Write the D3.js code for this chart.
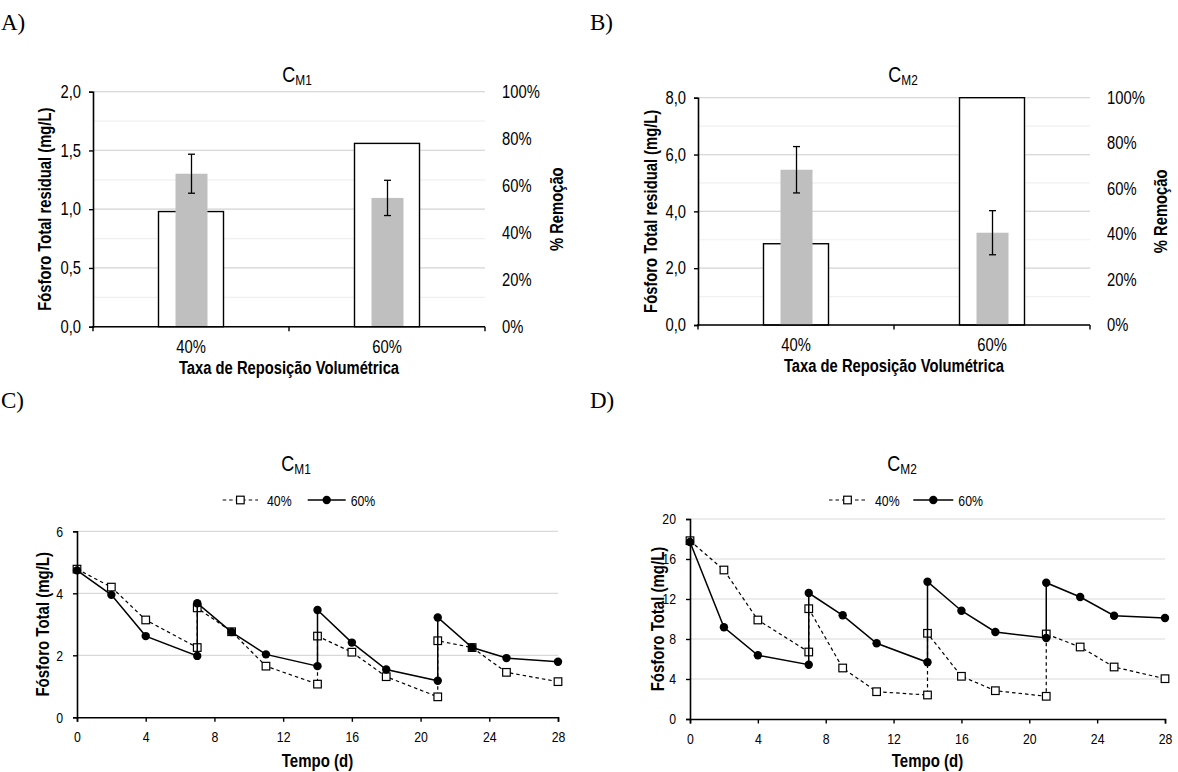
<!DOCTYPE html>
<html>
<head>
<meta charset="utf-8">
<script src="https://cdn.jsdelivr.net/npm/d3@7"></script>
<style>
  body { margin: 0; background: #fff; }
  svg { display: block; }
</style>
</head>
<body>
<svg id="chart" width="1178" height="772"></svg>
<script>
// ---------------- DATA ----------------
const barCategories = ["40%", "60%"];
// Bar panels: white boxes = residual total phosphorus (mg/L, left axis)
const residualCM1 = [0.98, 1.56];
const residualCM2 = [2.86, 8.0];
// Grey bars = % removal (right axis) with error bars
const removalCM1 = [65.1, 54.8];
const removalErrCM1 = [8.3, 7.5];
const removalCM2 = [68.3, 40.6];
const removalErrCM2 = [10.2, 9.7];

const leftTicksCM1 = [0, 0.5, 1.0, 1.5, 2.0];
const leftTicksCM2 = [0, 2, 4, 6, 8];
const rightTicks = [0, 20, 40, 60, 80, 100];

// Time series panels
const seriesNames = ["40%", "60%"];
const days = [0, 2, 4, 7, 7, 9, 11, 14, 14, 16, 18, 21, 21, 23, 25, 28];
const cm1_40 = [4.78, 4.20, 3.14, 2.25, 3.53, 2.76, 1.65, 1.07, 2.62, 2.10, 1.31, 0.66, 2.47, 2.25, 1.45, 1.15];
const cm1_60 = [4.74, 3.95, 2.62, 1.98, 3.68, 2.75, 2.03, 1.65, 3.46, 2.41, 1.54, 1.18, 3.22, 2.25, 1.91, 1.79];
const cm2_40 = [17.83, 14.9, 9.9, 6.7, 11.03, 5.1, 2.73, 2.4, 8.57, 4.27, 2.83, 2.27, 8.5, 7.2, 5.2, 4.03];
const cm2_60 = [17.7, 9.17, 6.37, 5.43, 12.6, 10.37, 7.57, 5.67, 13.73, 10.83, 8.7, 8.1, 13.63, 12.2, 10.33, 10.1];
const dayTicks = [0, 4, 8, 12, 16, 20, 24, 28];
const yTicksCM1 = [0, 2, 4, 6];
const yTicksCM2 = [0, 4, 8, 12, 16, 20];

// ---------------- DRAWING ----------------
const svg = d3.select("#chart");
const NARROW = "'Liberation Sans Narrow','Arial Narrow','Liberation Sans',Arial,sans-serif";
const SERIF = "'Liberation Serif','Times New Roman',serif";
const SQUEEZE = 0.82;   // emulate a condensed (Arial Narrow-like) face
const TICK_AB = 18, TICK_CD = 15;
const BOLD_AB = 18, BOLD_CD = 18.3;
const fmtComma = d => d3.format(".1f")(d).replace(".", ",");

function panelLetter(txt, x, y) {
  svg.append("text").attr("class", "nosq").attr("x", x).attr("y", y)
    .attr("font-family", SERIF).attr("font-size", 23).attr("fill", "#000").text(txt);
}
function title(main, sub, cx, y) {
  const g = svg.append("g").attr("transform", `translate(${cx},${y}) scale(${SQUEEZE},1)`);
  const t = g.append("text").attr("class", "nosq").attr("x", 0).attr("y", 0)
    .attr("text-anchor", "middle").attr("font-family", NARROW).attr("fill", "#000");
  t.append("tspan").attr("font-size", 22).text(main);
  t.append("tspan").attr("font-size", 14.5).attr("dy", 3).text(sub);
}
function vTitle(txt, cx, cy, size) {
  svg.append("text")
    .attr("transform", `translate(${cx + size * 0.36},${cy}) rotate(-90)`)
    .attr("text-anchor", "middle").attr("font-family", NARROW)
    .attr("font-weight", "bold").attr("font-size", size).attr("fill", "#000")
    .text(txt);
}

function barPanel(o) {
  const g = svg.append("g");
  const x = d3.scaleBand().domain(barCategories).range([o.x0, o.x1]).padding(0);
  const yL = d3.scaleLinear().domain([0, o.leftMax]).range([o.y0, o.y1]);
  const yR = d3.scaleLinear().domain([0, 100]).range([o.y0, o.y1]);
  const minor = d3.range(0, o.leftMax + 1e-9, o.leftMinor);
  g.selectAll(".mn").data(minor).join("line")
    .attr("x1", o.x0).attr("x2", o.x1)
    .attr("y1", d => yL(d)).attr("y2", d => yL(d))
    .attr("stroke", "#f0f0f0").attr("stroke-width", 1.2);
  g.selectAll(".mj").data(o.leftTicks).join("line")
    .attr("x1", o.x0).attr("x2", o.x1)
    .attr("y1", d => yL(d)).attr("y2", d => yL(d))
    .attr("stroke", "#d9d9d9").attr("stroke-width", 1.2);
  g.selectAll(".box").data(barCategories).join("rect")
    .attr("x", (d) => x(d) + x.bandwidth() / 2 - 32.5).attr("width", 65)
    .attr("y", (d, i) => yL(o.residual[i])).attr("height", (d, i) => o.y0 - yL(o.residual[i]))
    .attr("fill", "#fff").attr("stroke", "#000").attr("stroke-width", 1.4);
  g.selectAll(".gb").data(barCategories).join("rect")
    .attr("x", (d) => x(d) + x.bandwidth() / 2 - 15.5).attr("width", 32)
    .attr("y", (d, i) => yR(o.removal[i])).attr("height", (d, i) => o.y0 - yR(o.removal[i]))
    .attr("fill", "#bfbfbf");
  barCategories.forEach((c, i) => {
    const cx = x(c) + x.bandwidth() / 2 + 0.5;
    const t = yR(o.removal[i] + o.err[i]), b = yR(o.removal[i] - o.err[i]);
    g.append("line").attr("x1", cx).attr("x2", cx).attr("y1", t).attr("y2", b)
      .attr("stroke", "#000").attr("stroke-width", 1.3);
    [t, b].forEach(yy => g.append("line").attr("x1", cx - 3.5).attr("x2", cx + 3.5)
      .attr("y1", yy).attr("y2", yy).attr("stroke", "#000").attr("stroke-width", 1.3));
  });
  const axL = g.append("g").attr("transform", `translate(${o.x0},0)`)
    .call(d3.axisLeft(yL).tickValues(o.leftTicks).tickFormat(fmtComma).tickSize(4).tickPadding(8));
  axL.select(".domain").attr("stroke-width", 1.6);
  axL.selectAll(".tick line").attr("stroke-width", 1.4);
  axL.selectAll("text").attr("font-family", NARROW).attr("font-size", TICK_AB).attr("fill", "#000");
  const axR = g.append("g").attr("transform", `translate(${o.x1},0)`)
    .call(d3.axisRight(yR).tickValues(rightTicks).tickFormat(d => d + "%").tickSize(0).tickPadding(17));
  axR.select(".domain").remove();
  axR.selectAll("text").attr("font-family", NARROW).attr("font-size", TICK_AB).attr("fill", "#000");
  g.append("line").attr("x1", o.x0 - 1).attr("x2", o.x1).attr("y1", o.y0).attr("y2", o.y0)
    .attr("stroke", "#000").attr("stroke-width", 1.6);
  const bounds = [o.x0, (o.x0 + o.x1) / 2, o.x1];
  g.selectAll(".bt").data(bounds).join("line")
    .attr("x1", d => d).attr("x2", d => d).attr("y1", o.y0).attr("y2", o.y0 + 4.5)
    .attr("stroke", "#000").attr("stroke-width", 1.4);
  g.selectAll(".cl").data(barCategories).join("text")
    .attr("x", d => x(d) + x.bandwidth() / 2).attr("y", o.y0 + 26)
    .attr("text-anchor", "middle").attr("font-family", NARROW).attr("font-size", TICK_AB)
    .text(d => d);
  g.append("text").attr("x", (o.x0 + o.x1) / 2).attr("y", o.y0 + 47)
    .attr("text-anchor", "middle").attr("font-family", NARROW).attr("font-weight", "bold")
    .attr("font-size", BOLD_AB).text("Taxa de Reposição Volumétrica");
  vTitle("Fósforo Total residual (mg/L)", o.ltx, (o.y0 + o.y1) / 2, BOLD_AB);
  vTitle("% Remoção", o.rtx, (o.y0 + o.y1) / 2, BOLD_AB);
}

function linePanel(o) {
  const g = svg.append("g");
  const x = d3.scaleLinear().domain([0, 28]).range([o.x0, o.x1]);
  const y = d3.scaleLinear().domain([0, o.yMax]).range([o.y0, o.y1]);
  g.selectAll(".gl").data(o.yTicks.filter(d => d > 0)).join("line")
    .attr("x1", o.x0).attr("x2", o.x1).attr("y1", d => y(d)).attr("y2", d => y(d))
    .attr("stroke", "#d9d9d9").attr("stroke-width", 1.2);
  const line = d3.line().x(d => x(d[0])).y(d => y(d[1]));
  const p40 = days.map((d, i) => [d, o.s40[i]]);
  const p60 = days.map((d, i) => [d, o.s60[i]]);
  g.append("path").attr("d", line(p40)).attr("fill", "none").attr("stroke", "#000")
    .attr("stroke-width", 1.2).attr("stroke-dasharray", "3.5,3");
  g.selectAll(".sq").data(p40).join("rect")
    .attr("x", d => x(d[0]) - 3.8).attr("y", d => y(d[1]) - 3.8)
    .attr("width", 7.6).attr("height", 7.6)
    .attr("fill", "#fff").attr("stroke", "#000").attr("stroke-width", 1.2);
  g.append("path").attr("d", line(p60)).attr("fill", "none").attr("stroke", "#000")
    .attr("stroke-width", 1.5);
  g.selectAll(".ci").data(p60).join("circle")
    .attr("cx", d => x(d[0])).attr("cy", d => y(d[1])).attr("r", 4.2).attr("fill", "#000");
  const axL = g.append("g").attr("transform", `translate(${o.x0},0)`)
    .call(d3.axisLeft(y).tickValues(o.yTicks).tickFormat(d3.format("d")).tickSize(4).tickPadding(10));
  axL.select(".domain").attr("stroke-width", 1.6);
  axL.selectAll(".tick line").attr("stroke-width", 1.4);
  axL.selectAll("text").attr("font-family", NARROW).attr("font-size", TICK_CD).attr("fill", "#000");
  const axB = g.append("g").attr("transform", `translate(0,${o.y0})`)
    .call(d3.axisBottom(x).tickValues(dayTicks).tickFormat(d3.format("d")).tickSize(4.5).tickPadding(10));
  axB.select(".domain").attr("stroke-width", 1.6);
  axB.selectAll(".tick line").attr("stroke-width", 1.4);
  axB.selectAll("text").attr("font-family", NARROW).attr("font-size", TICK_CD).attr("fill", "#000");
  g.append("text").attr("x", (o.x0 + o.x1) / 2).attr("y", 766.5)
    .attr("text-anchor", "middle").attr("font-family", NARROW).attr("font-weight", "bold")
    .attr("font-size", BOLD_CD).text("Tempo (d)");
  vTitle("Fósforo Total  (mg/L)", o.ltx, (o.y0 + o.y1) / 2, BOLD_CD);
  const ly = o.legY;
  g.append("line").attr("x1", o.leg[0]).attr("x2", o.leg[1]).attr("y1", ly).attr("y2", ly)
    .attr("stroke", "#000").attr("stroke-width", 1.2).attr("stroke-dasharray", "3.5,3");
  const sqx = (o.leg[0] + o.leg[1]) / 2;
  g.append("rect").attr("x", sqx - 3.8).attr("y", ly - 3.8).attr("width", 7.6).attr("height", 7.6)
    .attr("fill", "#fff").attr("stroke", "#000").attr("stroke-width", 1.2);
  g.append("text").attr("x", o.leg[1] + 9).attr("y", ly + 5.5).attr("font-family", NARROW)
    .attr("font-size", TICK_CD).text(seriesNames[0]);
  g.append("line").attr("x1", o.leg[2]).attr("x2", o.leg[3]).attr("y1", ly).attr("y2", ly)
    .attr("stroke", "#000").attr("stroke-width", 1.5);
  g.append("circle").attr("cx", (o.leg[2] + o.leg[3]) / 2).attr("cy", ly).attr("r", 4.2).attr("fill", "#000");
  g.append("text").attr("x", o.leg[3] + 5).attr("y", ly + 5.5).attr("font-family", NARROW)
    .attr("font-size", TICK_CD).text(seriesNames[1]);
}

panelLetter("A)", 1, 30);
panelLetter("B)", 590, 30);
panelLetter("C)", 1, 408);
panelLetter("D)", 590, 408);

title("C", "M1", 297, 82);
title("C", "M2", 903, 82);
title("C", "M1", 296, 471);
title("C", "M2", 902, 471);

barPanel({ x0: 93, x1: 485, y0: 326.7, y1: 91.7, leftMax: 2, leftMinor: 0.25, leftTicks: leftTicksCM1,
  residual: residualCM1, removal: removalCM1, err: removalErrCM1, ltx: 45, rtx: 557 });
barPanel({ x0: 698, x1: 1090, y0: 325, y1: 97.7, leftMax: 8, leftMinor: 1, leftTicks: leftTicksCM2,
  residual: residualCM2, removal: removalCM2, err: removalErrCM2, ltx: 651, rtx: 1161 });

linePanel({ x0: 77, x1: 558, y0: 717.3, y1: 531.3, yMax: 6, yTicks: yTicksCM1,
  s40: cm1_40, s60: cm1_60, ltx: 42, legY: 500, leg: [222.7, 258, 307.7, 345.7] });
linePanel({ x0: 690, x1: 1165, y0: 719, y1: 519, yMax: 20, yTicks: yTicksCM2,
  s40: cm2_40, s60: cm2_60, ltx: 657, legY: 500, leg: [829, 866, 913.3, 953.3] });

// condense all plain text labels horizontally (no narrow face installed)
svg.selectAll("text").filter(function () { return !this.classList.contains("nosq"); })
  .each(function () {
    const L = this.getComputedTextLength();
    d3.select(this).attr("textLength", (L * SQUEEZE).toFixed(2)).attr("lengthAdjust", "spacingAndGlyphs");
  });
</script>
</body>
</html>
